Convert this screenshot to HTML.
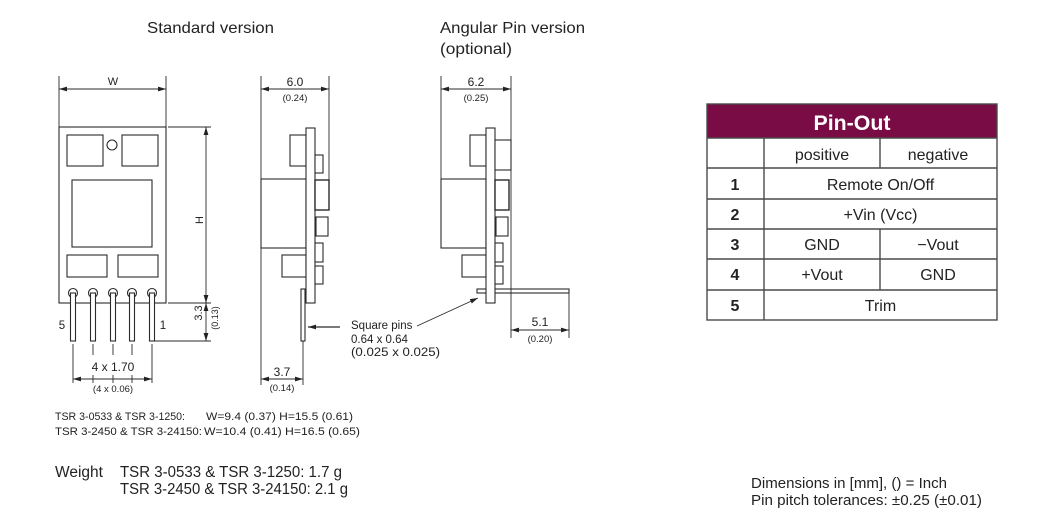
<!DOCTYPE html>
<html><head><meta charset="utf-8"><style>
html,body{margin:0;padding:0;background:#fff;}
svg{display:block;}
text{font-family:"Liberation Sans",sans-serif;fill:#222;}
</style></head><body>
<svg width="1062" height="519" viewBox="0 0 1062 519" xmlns="http://www.w3.org/2000/svg">
<defs>
<marker id="a" viewBox="0 0 8 6" refX="8" refY="3" markerWidth="8" markerHeight="6" markerUnits="userSpaceOnUse" orient="auto-start-reverse"><path d="M0,0.6 L8,3 L0,5.4z" fill="#222"/></marker>
</defs>
<rect width="1062" height="519" fill="#fff"/>

<!-- Titles -->
<text x="147" y="33" font-size="16" textLength="127" lengthAdjust="spacingAndGlyphs">Standard version</text>
<text x="440" y="33" font-size="16" textLength="145" lengthAdjust="spacingAndGlyphs">Angular Pin version</text>
<text x="440" y="54" font-size="16" textLength="72" lengthAdjust="spacingAndGlyphs">(optional)</text>

<g fill="none" stroke="#2a2a2a" stroke-width="1.1">
<!-- Standard front view -->
<rect x="59" y="127" width="107" height="176" fill="#fff"/>
<rect x="67" y="135" width="36" height="31"/>
<rect x="122" y="135" width="36" height="31"/>
<circle cx="112" cy="145" r="5"/>
<rect x="72" y="180" width="80" height="67"/>
<rect x="67" y="255" width="40" height="22"/>
<rect x="118" y="255" width="40" height="22"/>
</g>
<g fill="#fff" stroke="#2a2a2a" stroke-width="1.1">
<circle cx="73" cy="293" r="4.5"/><rect x="70.5" y="293" width="5" height="48"/>
<circle cx="93" cy="293" r="4.5"/><rect x="90.5" y="293" width="5" height="48"/>
<circle cx="113" cy="293" r="4.5"/><rect x="110.5" y="293" width="5" height="48"/>
<circle cx="132" cy="293" r="4.5"/><rect x="129.5" y="293" width="5" height="48"/>
<circle cx="152" cy="293" r="4.5"/><rect x="149.5" y="293" width="5" height="48"/>
</g>
<g stroke="#2a2a2a" stroke-width="0.9" fill="none">
<!-- W dim -->
<line x1="59" y1="76" x2="59" y2="127"/>
<line x1="166" y1="76" x2="166" y2="127"/>
<line x1="59" y1="89" x2="166" y2="89" marker-start="url(#a)" marker-end="url(#a)"/>
<!-- H dim -->
<line x1="168" y1="127" x2="211" y2="127"/>
<line x1="168" y1="303" x2="211" y2="303"/>
<line x1="155" y1="341" x2="211" y2="341"/>
<line x1="206" y1="127" x2="206" y2="303" marker-start="url(#a)" marker-end="url(#a)"/>
<line x1="206" y1="303" x2="206" y2="341" marker-start="url(#a)" marker-end="url(#a)"/>
<!-- pitch dim -->
<line x1="73" y1="344" x2="73" y2="383"/>
<line x1="152" y1="344" x2="152" y2="383"/>
<line x1="93" y1="344" x2="93" y2="355"/>
<line x1="113" y1="344" x2="113" y2="355"/>
<line x1="132" y1="344" x2="132" y2="355"/>
<line x1="93" y1="375" x2="93" y2="383"/>
<line x1="113" y1="375" x2="113" y2="383"/>
<line x1="132" y1="375" x2="132" y2="383"/>
<line x1="73" y1="379" x2="152" y2="379" marker-start="url(#a)" marker-end="url(#a)"/>
</g>
<text x="113" y="85" font-size="11" text-anchor="middle">W</text>
<text transform="translate(203,220) rotate(-90)" font-size="11" text-anchor="middle">H</text>
<text transform="translate(202,313) rotate(-90)" font-size="11" text-anchor="middle">3.3</text>
<text transform="translate(218,318) rotate(-90)" font-size="9" text-anchor="middle">(0.13)</text>
<text x="62" y="329" font-size="11.5" text-anchor="middle">5</text>
<text x="163" y="329" font-size="11.5" text-anchor="middle">1</text>
<text x="113" y="371" font-size="12" text-anchor="middle">4 x 1.70</text>
<text x="113" y="392" font-size="9.5" text-anchor="middle">(4 x 0.06)</text>

<!-- Standard side view -->
<g fill="#fff" stroke="#2a2a2a" stroke-width="1.1">
<rect x="290" y="135" width="16" height="31"/>
<rect x="261" y="179" width="45" height="69"/>
<rect x="282" y="255" width="24" height="22"/>
<rect x="306" y="128" width="9" height="175"/>
<rect x="315" y="155" width="8" height="18"/>
<rect x="315" y="180" width="14" height="30" stroke-width="1.4"/>
<rect x="316" y="217" width="12" height="19"/>
<rect x="315" y="243" width="8" height="19"/>
<rect x="315" y="266" width="8" height="18"/>
<rect x="301" y="289" width="4" height="52"/>
</g>
<g stroke="#2a2a2a" stroke-width="0.9" fill="none">
<line x1="261" y1="76" x2="261" y2="179"/>
<line x1="329" y1="76" x2="329" y2="180"/>
<line x1="261" y1="89" x2="329" y2="89" marker-start="url(#a)" marker-end="url(#a)"/>
<line x1="261" y1="248" x2="261" y2="385"/>
<line x1="303" y1="341" x2="303" y2="385"/>
<line x1="261" y1="379" x2="303" y2="379" marker-start="url(#a)" marker-end="url(#a)"/>
<line x1="340" y1="327" x2="308" y2="327" stroke-width="1.2" marker-end="url(#a)"/>
<line x1="417" y1="326" x2="478" y2="298" marker-end="url(#a)"/>
</g>
<text x="295" y="86" font-size="12" text-anchor="middle">6.0</text>
<text x="295" y="101" font-size="9.5" text-anchor="middle">(0.24)</text>
<text x="282" y="376" font-size="12" text-anchor="middle">3.7</text>
<text x="282" y="391" font-size="9.5" text-anchor="middle">(0.14)</text>
<text x="351" y="329" font-size="11.5">Square pins</text>
<text x="351" y="343" font-size="11.5">0.64 x 0.64</text>
<text x="351" y="356" font-size="11.5" textLength="89" lengthAdjust="spacingAndGlyphs">(0.025 x 0.025)</text>

<!-- Angular view -->
<g fill="#fff" stroke="#2a2a2a" stroke-width="1.1">
<rect x="477" y="289" width="92" height="4"/>
<rect x="470" y="135" width="16" height="31"/>
<rect x="441" y="179" width="45" height="69"/>
<rect x="462" y="255" width="24" height="22"/>
<rect x="486" y="128" width="9" height="175"/>
<rect x="495" y="140" width="16" height="30"/>
<rect x="495" y="180" width="14" height="30" stroke-width="1.4"/>
<rect x="496" y="217" width="12" height="19"/>
<rect x="495" y="243" width="8" height="19"/>
<rect x="495" y="266" width="8" height="18"/>
</g>
<g stroke="#2a2a2a" stroke-width="0.9" fill="none">
<line x1="441" y1="76" x2="441" y2="179"/>
<line x1="511" y1="76" x2="511" y2="338"/>
<line x1="441" y1="89" x2="511" y2="89" marker-start="url(#a)" marker-end="url(#a)"/>
<line x1="569" y1="293" x2="569" y2="338"/>
<line x1="511" y1="330" x2="569" y2="330" marker-start="url(#a)" marker-end="url(#a)"/>
</g>
<text x="476" y="86" font-size="12" text-anchor="middle">6.2</text>
<text x="476" y="101" font-size="9.5" text-anchor="middle">(0.25)</text>
<text x="540" y="326" font-size="12" text-anchor="middle">5.1</text>
<text x="540" y="342" font-size="9.5" text-anchor="middle">(0.20)</text>

<!-- Pin-out table -->
<rect x="707" y="104" width="290" height="34" fill="#790c45"/>
<g stroke="#4a4a4a" stroke-width="1.4" fill="none">
<rect x="707" y="104" width="290" height="216"/>
<line x1="707" y1="138" x2="997" y2="138"/>
<line x1="707" y1="168" x2="997" y2="168"/>
<line x1="707" y1="199" x2="997" y2="199"/>
<line x1="707" y1="229" x2="997" y2="229"/>
<line x1="707" y1="259" x2="997" y2="259"/>
<line x1="707" y1="290" x2="997" y2="290"/>
<line x1="764" y1="138" x2="764" y2="320"/>
<line x1="880" y1="138" x2="880" y2="168"/>
<line x1="880" y1="229" x2="880" y2="290"/>
</g>
<text x="852" y="130" font-size="21" font-weight="bold" text-anchor="middle" style="fill:#fff" textLength="77" lengthAdjust="spacingAndGlyphs">Pin-Out</text>
<g font-size="16" text-anchor="middle">
<text x="822" y="160">positive</text>
<text x="938" y="160">negative</text>
<text x="880.5" y="190">Remote On/Off</text>
<text x="880.5" y="220">+Vin (Vcc)</text>
<text x="822" y="250">GND</text>
<text x="938" y="250">−Vout</text>
<text x="822" y="280">+Vout</text>
<text x="938" y="280">GND</text>
<text x="880.5" y="311">Trim</text>
</g>
<g font-size="16" font-weight="bold" text-anchor="middle">
<text x="735" y="190">1</text>
<text x="735" y="220">2</text>
<text x="735" y="250">3</text>
<text x="735" y="280">4</text>
<text x="735" y="311">5</text>
</g>

<!-- Bottom notes -->
<text x="55" y="420" font-size="11" textLength="130" lengthAdjust="spacingAndGlyphs">TSR 3-0533 &amp; TSR 3-1250:</text>
<text x="206" y="420" font-size="11" textLength="147" lengthAdjust="spacingAndGlyphs">W=9.4 (0.37) H=15.5 (0.61)</text>
<text x="55" y="435" font-size="11" textLength="147" lengthAdjust="spacingAndGlyphs">TSR 3-2450 &amp; TSR 3-24150:</text>
<text x="204" y="435" font-size="11" textLength="156" lengthAdjust="spacingAndGlyphs">W=10.4 (0.41) H=16.5 (0.65)</text>
<text x="55" y="477" font-size="15.5" textLength="48" lengthAdjust="spacingAndGlyphs">Weight</text>
<text x="120" y="477" font-size="15.5" textLength="222" lengthAdjust="spacingAndGlyphs">TSR 3-0533 &amp; TSR 3-1250: 1.7 g</text>
<text x="120" y="494" font-size="15.5" textLength="228" lengthAdjust="spacingAndGlyphs">TSR 3-2450 &amp; TSR 3-24150: 2.1 g</text>
<text x="751" y="488" font-size="14.5" textLength="196" lengthAdjust="spacingAndGlyphs">Dimensions in [mm], () = Inch</text>
<text x="751" y="505" font-size="14.5" textLength="231" lengthAdjust="spacingAndGlyphs">Pin pitch tolerances: ±0.25 (±0.01)</text>
</svg>
</body></html>
